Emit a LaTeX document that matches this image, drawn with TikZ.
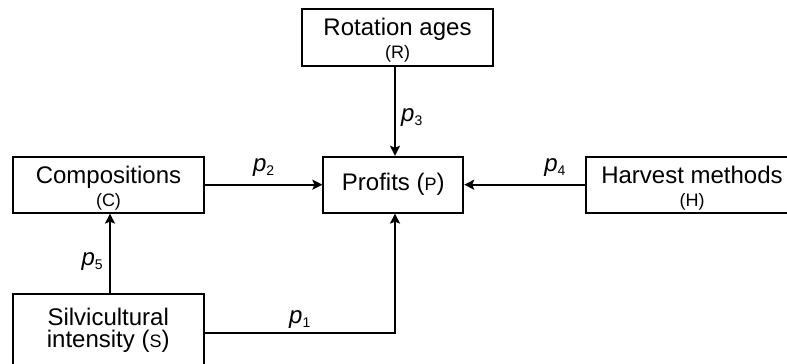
\documentclass[tikz,border=0pt]{standalone}
\usepackage{fontspec}
\setmainfont{Liberation Sans}
\usetikzlibrary{arrows.meta}
\newcommand{\bigf}{\fontsize{24}{26}\selectfont}
\newcommand{\smallf}{\fontsize{18}{19}\selectfont}
\newcommand{\subf}{\fontsize{14}{14}\selectfont}
\newcommand{\plab}[1]{\bigf\textit{p}\raisebox{-4pt}{\subf #1}}
\begin{document}
\begin{tikzpicture}[x=1pt,y=-1pt,
  box/.style={draw,line width=1.8pt,rectangle,inner sep=0pt,align=center,font=\bigf},
  txt/.style={inner sep=0pt,align=center,font=\bigf,yshift=-3pt},
  conn/.style={line width=1.8pt,-{Stealth[length=10pt,width=10pt,inset=2pt]}}]
\useasboundingbox (0,0) rectangle (787,364);
\node[box,minimum width=191pt,minimum height=57pt] (R) at (397.5,37.5) {};
\node[txt] (Rt) at (R) {Rotation ages\\[-3pt]{\smallf (R)}};
\node[box,minimum width=140pt,minimum height=56pt] (P) at (393.3,184.7)
  {Profits ({\smallf P})};
\node[box,minimum width=191pt,minimum height=56pt] (C) at (108.5,184.7) {};
\node[txt] (Ct) at (C) {Compositions\\[-3pt]{\smallf (C)}};
\node[box,minimum width=212pt,minimum height=56pt] (H) at (692,184.7) {};
\node[txt] (Ht) at (H) {Harvest methods\\[-3pt]{\smallf (H)}};
\node[box,minimum width=191pt,minimum height=72pt] (S) at (108.2,330)
  {Silvicultural\\[-4pt]intensity ({\smallf S})};
\coordinate (xr) at (395,0);
\coordinate (xc) at (110,0);
\coordinate (ys) at (0,333);
\draw[conn] (R.south -| xr) -- (P.north -| xr) node[pos=0.57,right=2pt] {\plab{3}};
\draw[conn] (C.east) -- (P.west) node[pos=0.5,above=4pt] {\plab{2}};
\draw[conn] (H.west) -- (P.east) node[pos=0.25,above=4pt] {\plab{4}};
\draw[conn] (S.north -| xc) -- (C.south -| xc) node[pos=0.4,left=3pt] {\plab{5}};
\draw[conn] (S.east |- ys) -| (P.south -| xr) node[pos=0.25,above=0pt] {\plab{1}};
\end{tikzpicture}
\end{document}
